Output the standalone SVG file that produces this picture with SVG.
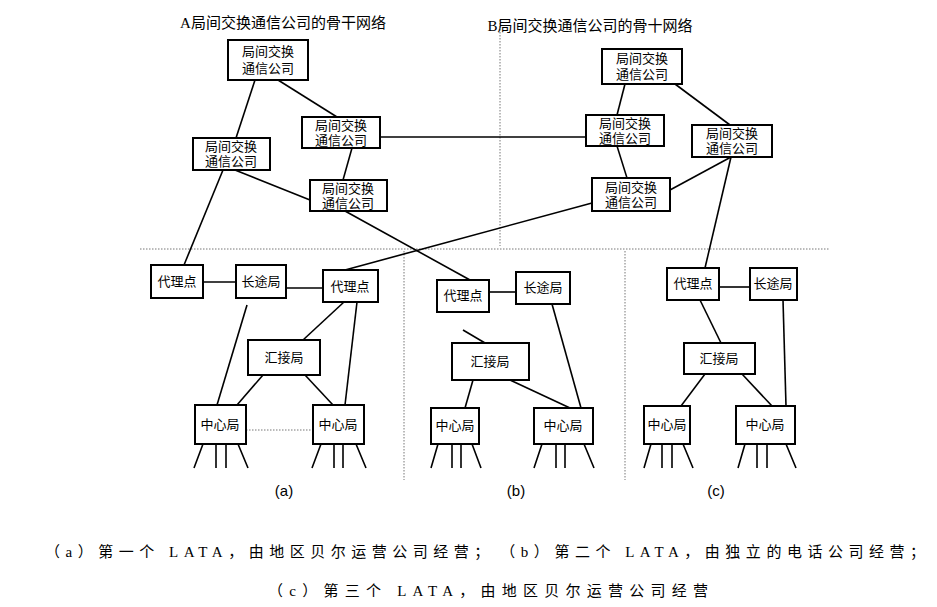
<svg xmlns="http://www.w3.org/2000/svg" width="937" height="607" viewBox="0 0 937 607">
<style>
.b{fill:#fff;stroke:#000;stroke-width:2}
.t{font-family:"Liberation Serif","Noto Sans CJK SC",serif;font-size:13px;text-anchor:middle;fill:#000}
.h{font-family:"Liberation Serif","Noto Sans CJK SC",serif;font-size:15px;fill:#000}
.l{font-family:"Liberation Sans",sans-serif;font-size:15px;text-anchor:middle;fill:#000}
.c{font-family:"Liberation Serif","Noto Sans CJK SC",serif;font-size:15px;fill:#000}
.e{stroke:#000;stroke-width:1.6;fill:none}
.d{stroke:#777;stroke-width:1;stroke-dasharray:1.5 1.5;fill:none}
</style>
<rect width="937" height="607" fill="#fff"/>
<g id="grid">
<line class="d" x1="140" y1="249" x2="830" y2="249"/>
<line class="d" x1="500" y1="20" x2="500" y2="246"/>
<line class="d" x1="404" y1="251" x2="404" y2="480"/>
<line class="d" x1="625" y1="251" x2="625" y2="480"/>
<line class="d" x1="246" y1="430" x2="313" y2="430"/>
</g>
<g id="connectors">
<line class="e" x1="255" y1="80" x2="236" y2="138"/>
<line class="e" x1="278" y1="80" x2="337" y2="117"/>
<line class="e" x1="223" y1="170" x2="184" y2="265"/>
<line class="e" x1="235" y1="170" x2="310" y2="200"/>
<line class="e" x1="352" y1="148" x2="343" y2="180"/>
<line class="e" x1="380" y1="137" x2="586" y2="137"/>
<line class="e" x1="345" y1="211" x2="470" y2="280"/>
<line class="e" x1="592" y1="203" x2="345" y2="270"/>
<line class="e" x1="625" y1="84" x2="617" y2="115"/>
<line class="e" x1="675" y1="84" x2="730" y2="125"/>
<line class="e" x1="617" y1="146" x2="627" y2="178"/>
<line class="e" x1="670" y1="190" x2="731" y2="157"/>
<line class="e" x1="731" y1="157" x2="705" y2="268"/>
<line class="e" x1="203" y1="282" x2="236" y2="282"/>
<line class="e" x1="286" y1="288" x2="323" y2="288"/>
<line class="e" x1="247" y1="305" x2="217" y2="405"/>
<line class="e" x1="344" y1="302" x2="303" y2="340"/>
<line class="e" x1="357" y1="302" x2="345" y2="405"/>
<line class="e" x1="263" y1="375" x2="237" y2="405"/>
<line class="e" x1="305" y1="375" x2="333" y2="405"/>
<line class="e" x1="489" y1="292" x2="516" y2="292"/>
<line class="e" x1="463" y1="330" x2="485" y2="343"/>
<line class="e" x1="552" y1="304" x2="581" y2="408"/>
<line class="e" x1="473" y1="380" x2="465" y2="408"/>
<line class="e" x1="510" y1="380" x2="570" y2="408"/>
<line class="e" x1="719" y1="287" x2="750" y2="287"/>
<line class="e" x1="700" y1="300" x2="721" y2="343"/>
<line class="e" x1="783" y1="300" x2="786" y2="406"/>
<line class="e" x1="705" y1="374" x2="681" y2="406"/>
<line class="e" x1="742" y1="374" x2="772" y2="406"/>
<path class="e" d="M203 444L194 468M216 444V468M226 444V468M238 444L248 468"/>
<path class="e" d="M321 444L312 468M334 444V468M343 444V468M356 444L366 468"/>
<path class="e" d="M438 444L431 468M452 444V468M461 444V468M472 444L481 468"/>
<path class="e" d="M542 444L534 468M556 444V468M565 444V468M584 444L594 468"/>
<path class="e" d="M651 444L644 468M662 444V468M672 444V468M683 444L693 468"/>
<path class="e" d="M745 444L738 468M757 444V468M767 444V468M786 444L796 468"/>
</g>
<text class="h" x="283" y="28" text-anchor="middle">A局间交换通信公司的骨干网络</text>
<text class="h" x="590" y="31" text-anchor="middle">B局间交换通信公司的骨十网络</text>
<g id="a1"><rect class="b" x="228" y="40" width="80" height="40"/><text class="t" x="268" y="56">局间交换</text><text class="t" x="268" y="73">通信公司</text></g>
<g id="a2"><rect class="b" x="302" y="117" width="78" height="31"/><text class="t" x="341" y="130">局间交换</text><text class="t" x="341" y="145">通信公司</text></g>
<g id="a3"><rect class="b" x="193" y="138" width="77" height="32"/><text class="t" x="231" y="151">局间交换</text><text class="t" x="231" y="166">通信公司</text></g>
<g id="a4"><rect class="b" x="310" y="180" width="77" height="31"/><text class="t" x="348" y="193">局间交换</text><text class="t" x="348" y="208">通信公司</text></g>
<g id="b1"><rect class="b" x="602" y="49" width="80" height="35"/><text class="t" x="642" y="63">局间交换</text><text class="t" x="642" y="79">通信公司</text></g>
<g id="b2"><rect class="b" x="586" y="115" width="78" height="31"/><text class="t" x="625" y="128">局间交换</text><text class="t" x="625" y="143">通信公司</text></g>
<g id="b3"><rect class="b" x="692" y="125" width="80" height="32"/><text class="t" x="732" y="138">局间交换</text><text class="t" x="732" y="153">通信公司</text></g>
<g id="b4"><rect class="b" x="592" y="178" width="78" height="33"/><text class="t" x="631" y="192">局间交换</text><text class="t" x="631" y="207">通信公司</text></g>
<g id="ap1"><rect class="b" x="151" y="265" width="52" height="33"/><text class="t" x="177" y="286">代理点</text></g>
<g id="al"><rect class="b" x="236" y="265" width="50" height="33"/><text class="t" x="261" y="286">长途局</text></g>
<g id="ap2"><rect class="b" x="323" y="270" width="55" height="32"/><text class="t" x="350" y="291">代理点</text></g>
<g id="at"><rect class="b" x="248" y="340" width="72" height="35"/><text class="t" x="284" y="362">汇接局</text></g>
<g id="ac1"><rect class="b" x="195" y="405" width="51" height="39"/><text class="t" x="220" y="429">中心局</text></g>
<g id="ac2"><rect class="b" x="313" y="405" width="51" height="39"/><text class="t" x="338" y="429">中心局</text></g>
<g id="bp"><rect class="b" x="437" y="280" width="52" height="32"/><text class="t" x="463" y="300">代理点</text></g>
<g id="bl"><rect class="b" x="516" y="272" width="54" height="32"/><text class="t" x="543" y="292">长途局</text></g>
<g id="bt"><rect class="b" x="452" y="343" width="77" height="37"/><text class="t" x="490" y="366">汇接局</text></g>
<g id="bc1"><rect class="b" x="431" y="408" width="48" height="36"/><text class="t" x="455" y="430">中心局</text></g>
<g id="bc2"><rect class="b" x="534" y="408" width="59" height="36"/><text class="t" x="563" y="430">中心局</text></g>
<g id="cp"><rect class="b" x="667" y="268" width="52" height="32"/><text class="t" x="693" y="288">代理点</text></g>
<g id="cl"><rect class="b" x="750" y="268" width="47" height="32"/><text class="t" x="773" y="288">长途局</text></g>
<g id="ct"><rect class="b" x="684" y="343" width="71" height="31"/><text class="t" x="719" y="363">汇接局</text></g>
<g id="cc1"><rect class="b" x="644" y="406" width="46" height="38"/><text class="t" x="667" y="429">中心局</text></g>
<g id="cc2"><rect class="b" x="736" y="406" width="59" height="38"/><text class="t" x="765" y="429">中心局</text></g>
<text class="l" x="284" y="496">(a)</text>
<text class="l" x="516" y="496">(b)</text>
<text class="l" x="716" y="496">(c)</text>
<text class="c" x="45" y="557" textLength="880" lengthAdjust="spacing">（a）第一个 LATA，由地区贝尔运营公司经营；　（b）第二个 LATA，由独立的电话公司经营；</text>
<text class="c" x="268" y="596" textLength="440" lengthAdjust="spacing">（c）第三个 LATA，由地区贝尔运营公司经营</text>
</svg>
